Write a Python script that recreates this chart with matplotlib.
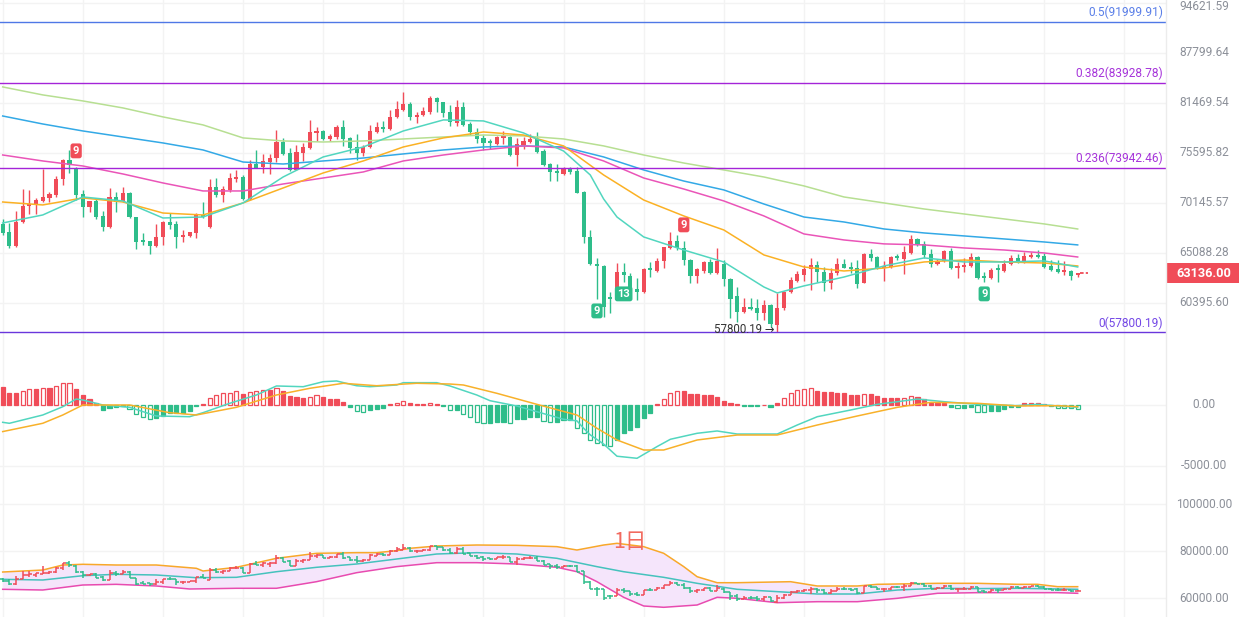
import numpy as np
import matplotlib
matplotlib.use("Agg")
import matplotlib.pyplot as plt
from matplotlib.collections import LineCollection
from matplotlib.patches import Rectangle
from matplotlib.lines import Line2D
from matplotlib.ticker import NullLocator
from matplotlib.transforms import blended_transform_factory as btf

plt.rcParams['font.family'] = ['Roboto', 'DejaVu Sans']

# ---------------- data ----------------
OPEN = [67980, 67170, 65780, 68180, 69830, 69940, 70360, 70680, 71000, 72710,
        74800, 73810, 71100, 69730, 70360, 68800, 67670, 70780, 70360, 71210,
        68690, 66370, 66270, 65780, 66670, 68180, 67980, 66670, 66770, 67070,
        68900, 67670, 71850, 71000, 71530, 72710, 72930, 70570, 74360, 74030,
        74580, 75030, 76850, 75600, 73700, 75600, 76170, 77900, 78130, 77200,
        77430, 78600, 77320, 76280, 75600, 76280, 78010, 78600, 78360, 79790,
        80620, 81350, 79790, 80020, 80380, 82090, 81590, 80380, 79070, 80990,
        78950, 78010, 77320, 76850, 76620, 77320, 77430, 75370, 76510, 76850,
        77200, 75820, 74360, 73480, 73260, 73810, 73590, 71320, 66670, 64030,
        63840, 60940, 60760, 63260, 62890, 61680, 61400, 63550, 63360, 64320,
        65580, 66270, 65580, 64410, 62890, 63360, 64220, 63170, 64030, 62600,
        61030, 59590, 60040, 59950, 59500, 60220, 58440, 59950, 61400, 62420,
        62980, 63550, 63930, 63260, 62230, 63170, 64030, 63740, 63640, 62230,
        65000, 64700, 63640, 63740, 64700, 64510, 65090, 66470, 65980, 65000,
        64030, 64320, 65290, 63640, 63740, 63840, 64700, 62790, 62700, 63550,
        63360, 64030, 64610, 64220, 64700, 64900, 64800, 63840, 63550, 63260,
        63360, 62950]
HIGH = [68490, 68080, 69310, 71630, 71530, 70680, 73810, 71320, 73040, 74900,
        75940, 74030, 71530, 70400, 70570, 69310, 71740, 71320, 71850, 71300,
        68700, 67070, 66300, 67980, 68280, 69100, 68280, 67370, 67200, 69100,
        70250, 72710, 72820, 71960, 73370, 73700, 73150, 74810, 75940, 75490,
        75490, 78250, 77320, 76170, 76510, 76740, 79430, 78600, 78200, 77780,
        78840, 79430, 77400, 77780, 76510, 78840, 79190, 79310, 80620, 81720,
        82830, 81590, 80380, 80990, 82330, 82210, 81600, 81230, 81840, 81590,
        79190, 78480, 77660, 77200, 77500, 78130, 77500, 77320, 77430, 77780,
        78010, 76050, 74470, 74360, 74030, 74030, 74030, 71400, 67370, 64610,
        63900, 61400, 64120, 64120, 63170, 62700, 63600, 64220, 64610, 65700,
        67170, 66870, 66270, 64500, 63640, 64320, 64510, 65580, 64410, 62700,
        61860, 60850, 60850, 60760, 60670, 60300, 61310, 61490, 62790, 63360,
        63930, 64610, 64320, 63740, 63640, 64610, 64510, 64220, 64410, 65050,
        65480, 64800, 64320, 64800, 65000, 65780, 66870, 66570, 66270, 65480,
        64510, 65380, 65580, 64220, 64610, 65090, 64800, 63260, 63640, 64030,
        64410, 64900, 65000, 65190, 65190, 65380, 65090, 64410, 64410, 64320,
        63450, 63200]
LOW = [66870, 65580, 65700, 68100, 69000, 69000, 70300, 70250, 70780, 72060,
       73370, 70460, 68690, 69210, 68490, 67270, 67600, 69210, 70250, 68600,
       65480, 65880, 65000, 65700, 65880, 67470, 65580, 66170, 66700, 66570,
       68590, 67600, 70780, 70250, 71320, 72390, 70460, 70500, 73900, 73370,
       73260, 74580, 75370, 73580, 73650, 74700, 76050, 76970, 77080, 76970,
       77200, 76400, 75600, 74810, 75260, 76170, 77900, 78010, 78250, 79670,
       80550, 79430, 79070, 79950, 80140, 80380, 79790, 78720, 78720, 78720,
       77660, 76740, 75940, 76050, 76500, 76620, 75300, 74140, 76050, 76740,
       75600, 74140, 72490, 72490, 73150, 73260, 71150, 66070, 63930, 60760,
       59140, 59500, 60700, 62330, 60670, 60670, 61350, 62790, 63260, 63640,
       65500, 65380, 63930, 62230, 62230, 63170, 63100, 63100, 61950, 59060,
       58700, 59500, 59770, 58880, 58880, 58270, 57800, 59770, 61310, 62330,
       62420, 61590, 62330, 61490, 61680, 62980, 63600, 63170, 61770, 62200,
       64320, 63550, 62420, 63600, 64410, 63080, 65000, 65780, 64610, 63740,
       63930, 64220, 63550, 62700, 63260, 63740, 62650, 62330, 62650, 62330,
       63260, 63930, 64120, 64120, 64610, 64610, 63640, 63400, 63170, 62980,
       62510, 62800]
CLOSE = [67070, 65780, 68180, 69830, 70040, 70460, 70780, 71100, 72710, 74800,
         74250, 71000, 69730, 70360, 68690, 67670, 70780, 70250, 71210, 68690,
         66170, 66170, 65780, 66670, 68180, 67880, 66670, 66870, 67170, 68900,
         68690, 71850, 71000, 71630, 72820, 72930, 70570, 74360, 73920, 74700,
         75030, 76850, 75490, 73700, 75710, 76280, 78010, 78130, 77200, 77550,
         78600, 77200, 76170, 75600, 76280, 78130, 78600, 78360, 79790, 80740,
         81350, 79790, 80020, 80500, 82090, 81590, 80260, 79190, 80990, 78840,
         78010, 77200, 76740, 76740, 77430, 77430, 75370, 76620, 76970, 77200,
         75710, 74250, 73480, 73370, 73810, 73480, 71210, 66670, 64030, 63840,
         60040, 60760, 63260, 62980, 61680, 61400, 63550, 63450, 64320, 65680,
         66270, 65580, 64410, 62890, 63550, 64220, 63170, 64320, 62600, 60760,
         59590, 60040, 59860, 59500, 60220, 58530, 59950, 61400, 62510, 63080,
         63550, 63930, 63260, 62230, 63170, 64030, 63640, 63550, 62140, 65000,
         64610, 63640, 63840, 64700, 64610, 65190, 66470, 65980, 64900, 64030,
         64320, 65290, 63640, 63840, 63930, 64700, 62700, 62700, 63450, 63450,
         64030, 64610, 64220, 64800, 64900, 64700, 63740, 63450, 63260, 63450,
         62890, 63136]
LAST_PRICE = 63136.00

# moving averages read at sample candles
MA_IDX = [0, 6, 12, 18, 24, 30, 36, 42, 48, 54, 60, 66, 72, 78, 84, 90, 96, 102,
          108, 114, 120, 126, 132, 138, 144, 150, 156, 161]
TEAL_IDX = [0, 6, 12, 18, 24, 30, 36, 42, 48, 54, 60, 66, 72, 78, 84, 88, 90, 92,
            96, 102, 108, 114, 116, 120, 126, 132, 138, 144, 150, 156, 161]
MA_TEAL = [68080, 68900, 70780, 70360, 68590, 68690, 70150, 72930, 75150, 76280,
           78130, 79430, 79310, 77900, 75820, 73150, 70570, 68690, 66670, 65380,
           64220, 61860, 61310, 61960, 62790, 63840, 64610, 64220, 64220, 64320,
           63740]
MA_ORANGE = [70250, 69940, 70680, 70250, 69100, 68900, 70150, 71740, 73370, 74700,
             76280, 77320, 78010, 77660, 76400, 73150, 70460, 68800, 67370, 64900,
             63740, 63360, 63640, 64220, 64410, 64220, 64120, 63840]
MA_PINK = [75370, 74700, 74140, 73260, 72280, 71420, 71420, 72170, 72820, 73480,
           74700, 75370, 75940, 76400, 76170, 74700, 72820, 71630, 70360, 68800,
           66970, 66370, 65980, 65880, 65580, 65380, 65090, 64700]
MA_BLUE = [79900, 78950, 78130, 77430, 76740, 75940, 74580, 74360, 74700, 75030,
           75490, 75940, 76280, 76400, 76280, 75150, 73700, 72490, 71530, 70040,
           68690, 68180, 67470, 67070, 66770, 66470, 66170, 65880]
MA_GREEN = [83450, 82460, 81720, 80870, 79790, 78840, 77320, 76970, 76850, 76970,
            77200, 77430, 77660, 77550, 77200, 76400, 75370, 74470, 73700, 72930,
            71960, 70780, 70150, 69520, 69000, 68490, 67980, 67470]

# fibonacci levels
FIB_LEVELS = [91999.91, 83928.78, 73942.46, 57800.19]
FIB_LABELS = ['0.5(91999.91)', '0.382(83928.78)', '0.236(73942.46)', '0(57800.19)']

# TD markers
TD_IDX = [11, 102, 89, 93, 147]
TD_TEXT = ['9', '9', '9', '13', '9']
TD_SIDE = ['up', 'up', 'down', 'down', 'down']
LOW_MARK_IDX = 116
LOW_MARK_TEXT = '57800.19 →'

# MACD
MACD_HIST = [1500, 1010, 1010, 1150, 1310, 1310, 1390, 1390, 1560, 1780,
             1830, 1310, 820, 490, 140, -410, -270, -190, -50, -360,
             -740, -1010, -1150, -1090, -900, -630, -630, -630, -460, -80,
             80, 550, 820, 960, 1010, 1170, 900, 1090, 1150, 1230,
             1230, 1370, 1150, 740, 680, 550, 680, 790, 630, 490,
             490, 270, -140, -460, -550, -410, -360, -270, 80, 190,
             300, 140, 80, 80, 160, 55, -80, -410, -410, -740,
             -1010, -1370, -1500, -1500, -1370, -1370, -1500, -1170, -1170, -1010,
             -1010, -1280, -1370, -1370, -1230, -1230, -1910, -2320, -2870, -3080,
             -3280, -3360, -2870, -2320, -2050, -1780, -1090, -630, 55, 460,
             960, 1150, 1150, 900, 870, 820, 820, 680, 350, 200,
             55, -80, -80, -80, 30, -140, 140, 600, 1010, 1230,
             1340, 1370, 1170, 1090, 1040, 1010, 960, 820, 820, 900,
             870, 740, 600, 570, 550, 600, 760, 680, 460, 140,
             140, 140, -190, -270, -270, -190, -550, -570, -460, -460,
             -360, -190, -140, 140, 140, 140, 80, -80, -220, -250,
             -270, -300]
DIF_IDX = [0, 1, 6, 9, 11, 12, 15, 19, 23, 28, 30, 34, 38, 41, 45, 48, 50, 53, 55, 59,
           60, 65, 67, 71, 73, 77, 80, 84, 86, 87, 88, 90, 92, 95, 98, 100, 104, 107,
           110, 116, 119, 122, 127, 131, 134, 137, 141, 146, 152, 155, 158, 161]
DIF_VAL = [-1420, -1500, -820, -140, 490, 410, 0, -190, -900, -960, -630, 140, 820,
           1560, 1500, 1910, 1970, 1580, 1500, 1640, 1830, 1830, 1560, 820, 350, -80,
           -550, -1170, -1300, -1900, -2450, -3200, -4200, -4370, -3410, -2810, -2320,
           -2130, -2380, -2380, -1640, -960, -410, 55, 270, 490, 270, 55, -55, 55,
           -80, -190]
DEA_IDX = [0, 6, 9, 12, 19, 25, 29, 35, 41, 46, 51, 56, 62, 67, 69, 74, 80, 86, 89,
           92, 96, 99, 104, 110, 116, 122, 128, 134, 139, 146, 152, 158, 161]
DEA_VAL = [-2180, -1500, -820, 0, 0, -630, -820, -190, 820, 1370, 1780, 1580, 1780,
           1720, 1640, 960, 55, -820, -1910, -2870, -3690, -3690, -2870, -2460, -2460,
           -1640, -900, -190, 220, 140, -80, -55, -140]

# Bollinger bands (bottom panel)
BU_IDX = [0, 6, 9, 12, 17, 23, 29, 30, 35, 41, 47, 53, 56, 59, 61, 65, 71, 77, 83,
          86, 90, 92, 96, 99, 102, 104, 107, 110, 118, 122, 128, 131, 140, 146, 152,
          155, 158, 161]
BU_VAL = [71060, 71900, 74040, 74340, 74040, 74040, 72640, 71490, 73060, 76890,
          79020, 79290, 79290, 80140, 81150, 82130, 82550, 82410, 81850, 80420,
          82550, 83270, 81850, 79020, 73340, 69060, 66510, 66510, 66940, 65110,
          65110, 65820, 66250, 66250, 65820, 65820, 64820, 64820]
BM_IDX = [0, 6, 12, 17, 23, 29, 35, 41, 47, 53, 59, 65, 71, 77, 83, 89, 93, 99, 104,
          110, 116, 122, 128, 134, 140, 146, 152, 158, 161]
BM_VAL = [67950, 67660, 69490, 70080, 69790, 68640, 68800, 71190, 73060, 74470,
          76590, 78720, 79290, 78720, 76890, 73340, 71190, 68800, 66250, 63700,
          62700, 61700, 61700, 63400, 64130, 63990, 64130, 63840, 63700]
BL_IDX = [0, 6, 12, 17, 23, 28, 35, 41, 47, 53, 59, 65, 71, 77, 83, 86, 89, 93, 96,
          99, 104, 107, 110, 116, 122, 128, 134, 140, 146, 152, 158, 161]
BL_VAL = [63700, 63400, 65530, 65820, 65110, 63830, 64130, 64130, 66940, 70770,
          73340, 75030, 75030, 74470, 73060, 71190, 66940, 60300, 56600, 56040,
          57020, 60300, 59870, 58000, 58430, 58430, 59870, 62000, 62270, 62270,
          62270, 62000]

MAIN_TICKS = [94621.59, 87799.64, 81469.54, 75595.82, 70145.57, 65088.28, 60395.60]
MACD_TICKS = [0.0, -5000.0]
BOLL_TICKS = [100000.0, 80000.0, 60000.0]
PERIOD_LABEL = '1日'

# ---------------- styling ----------------
RED = '#f04c58'
GREEN = '#2ebd8a'
GRID = '#f3f3f3'
AXTXT = '#8c9099'

W, H = 1239, 617
PLOT_R = 1166
fig = plt.figure(figsize=(W / 100, H / 100), dpi=100)
fig.patch.set_facecolor('white')


def rect(y0, y1):
    return [0, 1 - y1 / H, PLOT_R / W, (y1 - y0) / H]


ax1 = fig.add_axes(rect(0, 340))
ax2 = fig.add_axes(rect(340, 480))
ax3 = fig.add_axes(rect(480, 617))

X0, DX = 2.7, 6.677
XLIM = (-X0 / DX, (PLOT_R - X0) / DX)

ax1.set_yscale('log')
ax1.set_ylim(57142, 95045)
ax2.set_ylim(-6150, 5330)
ax3.set_ylim(51915, 110213)

for ax in (ax1, ax2, ax3):
    ax.set_xlim(*XLIM)
    for s in ax.spines.values():
        s.set_visible(False)
    ax.set_xticks([])
    ax.set_yticks([])
    ax.yaxis.set_minor_locator(NullLocator())
    ax.xaxis.set_minor_locator(NullLocator())
    ax.patch.set_alpha(0)
    for g in range(0, 175, 12):
        ax.axvline(g, color=GRID, lw=1, zorder=0)

fig.add_artist(Line2D([PLOT_R / W, PLOT_R / W], [0, 1], transform=fig.transFigure,
                      color='#ececec', lw=1))

o, h, l, c = map(np.array, (OPEN, HIGH, LOW, CLOSE))
idx = np.arange(len(c))
up = c >= o
cols = np.where(up, RED, GREEN)

# ---- main panel ----
for v in MAIN_TICKS:
    ax1.axhline(v, color=GRID, lw=1, zorder=0)

ax1.vlines(idx, l, h, colors=cols, lw=1, zorder=3)
bot = np.minimum(o, c)
top = np.maximum(np.maximum(o, c), bot * 1.0025)
ax1.bar(idx, top - bot, bottom=bot, width=0.62, color=cols, linewidth=0, zorder=4)

for xs, vals, col in ((MA_IDX, MA_GREEN, '#b7df92'), (MA_IDX, MA_BLUE, '#33a9e6'),
                      (MA_IDX, MA_PINK, '#ea55b8'), (MA_IDX, MA_ORANGE, '#fbb124'),
                      (TEAL_IDX, MA_TEAL, '#52d6bf')):
    ax1.plot(xs, vals, color=col, lw=1.1, zorder=5, solid_joinstyle='round')

fib_line_cols = ['#4f78e6', '#a424d8', '#a424d8', '#6a37dc']
fib_txt_cols = ['#5a7fe8', '#a634da', '#a634da', '#7448e6']
tr_fib = btf(ax1.transAxes, ax1.transData)
for lv, lab, lc, tc in zip(FIB_LEVELS, FIB_LABELS, fib_line_cols, fib_txt_cols):
    ax1.axhline(lv, color=lc, lw=1.0, zorder=6)
    ax1.annotate(lab, (1163 / PLOT_R, lv), xycoords=tr_fib, xytext=(0, 2),
                 textcoords='offset points', ha='right', va='bottom',
                 fontsize=8.6, color=tc, zorder=7)

for i, t, side in zip(TD_IDX, TD_TEXT, TD_SIDE):
    if side == 'up':
        y, off, va, fc = HIGH[i], 8, 'bottom', RED
    else:
        y, off, va, fc = LOW[i], -5, 'top', GREEN
    ax1.annotate(t, (i, y), xytext=(0, off), textcoords='offset points',
                 ha='center', va=va, fontsize=8, color='white', fontweight='bold',
                 bbox=dict(boxstyle='round,pad=0.22', fc=fc, ec='none'), zorder=10)

ax1.annotate(LOW_MARK_TEXT, (LOW_MARK_IDX, LOW[LOW_MARK_IDX]), xytext=(-2, 2),
             textcoords='offset points', ha='right', va='center', fontsize=8.3,
             color='#333333', zorder=8)

ax1.hlines(LAST_PRICE, idx[-1] + 0.4, idx[-1] + 1.5, colors=RED, lw=1.3,
           linestyles=(0, (2, 1.2)), zorder=6)

# ---- MACD panel ----
for v in MACD_TICKS:
    ax2.axhline(v, color=GRID, lw=1, zorder=0)
hv = np.array(MACD_HIST, dtype=float)
prev = np.r_[0.0, hv[:-1]]
hollow = (np.abs(hv) > np.abs(prev)) & (np.sign(hv) == np.sign(prev))
hcol = np.where(hv >= 0, RED, GREEN)
face = np.where(hollow, 'white', hcol)
ax2.bar(idx, hv, width=0.62, color=face, edgecolor=hcol, linewidth=0.9, zorder=3)
ax2.plot(DIF_IDX, DIF_VAL, color='#52d6bf', lw=1.1, zorder=4, solid_joinstyle='round')
ax2.plot(DEA_IDX, DEA_VAL, color='#f8b12a', lw=1.1, zorder=4, solid_joinstyle='round')

# ---- Bollinger panel ----
for v in BOLL_TICKS:
    ax3.axhline(v, color=GRID, lw=1, zorder=0)
ax3.fill(np.r_[BU_IDX, BL_IDX[::-1]], np.r_[BU_VAL, BL_VAL[::-1]],
         color='#f5e5fb', lw=0, zorder=1)
ax3.plot(BU_IDX, BU_VAL, color='#f8a82a', lw=1.1, zorder=2)
ax3.plot(BM_IDX, BM_VAL, color='#45c2bd', lw=1.1, zorder=2)
ax3.plot(BL_IDX, BL_VAL, color='#e84bb0', lw=1.1, zorder=2)
segs, scol = [], []
for i in idx:
    segs += [[(i, l[i]), (i, h[i])], [(i - 0.45, o[i]), (i, o[i])],
             [(i, c[i]), (i + 0.45, c[i])]]
    scol += [cols[i]] * 3
ax3.add_collection(LineCollection(segs, colors=scol, linewidths=1.1, zorder=4))
fig.text(630 / W, 1 - 542 / H, PERIOD_LABEL, fontsize=15.5, color='#f26a5f',
         ha='center', va='center', family=['Noto Sans CJK SC', 'DejaVu Sans'])

# ---- right axis labels ----
XL = 1204 / W
for ax, ticks in ((ax1, MAIN_TICKS), (ax2, MACD_TICKS), (ax3, BOLL_TICKS)):
    for v in ticks:
        ypx = ax.transData.transform((0, v))[1]
        ypx = min(ypx, H - 7)  # keep the topmost label inside the canvas
        fig.text(XL, ypx / H, f'{v:.2f}', ha='center', va='center',
                 fontsize=8.6, color=AXTXT)

# last price tag
ypx = ax1.transData.transform((0, LAST_PRICE))[1]
fig.add_artist(Rectangle((PLOT_R / W, (ypx - 10) / H), (W - PLOT_R) / W, 20 / H,
                         transform=fig.transFigure, color=RED, lw=0))
fig.text(XL, ypx / H, f'{LAST_PRICE:.2f}', ha='center', va='center',
         fontsize=9.2, color='white', fontweight='bold')

fig.savefig('out.png', dpi=100, facecolor='white')
